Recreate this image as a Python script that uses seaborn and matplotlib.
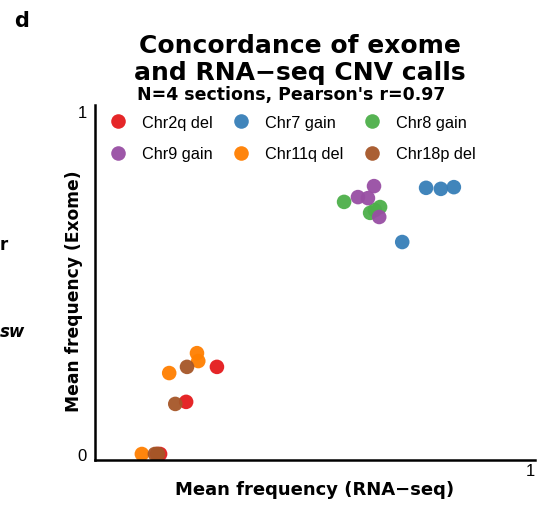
import matplotlib
matplotlib.use("Agg")
import matplotlib.pyplot as plt
import seaborn as sns
import pandas as pd

categories = ["Chr2q del", "Chr7 gain", "Chr8 gain", "Chr9 gain", "Chr11q del", "Chr18p del"]
colors = ["#E41A1C", "#377EB8", "#4DAF4A", "#984EA3", "#FF7F00", "#A65628"]

rna_chr2q = [0.267, 0.196, 0.136, 0.129]
exo_chr2q = [0.254, 0.152, 0.0, 0.0]
rna_chr7 = [0.749, 0.783, 0.813, 0.694]
exo_chr7 = [0.776, 0.773, 0.778, 0.618]
rna_chr8 = [0.560, 0.620, 0.631, 0.643]
exo_chr8 = [0.735, 0.703, 0.711, 0.720]
rna_chr9 = [0.629, 0.592, 0.615, 0.641]
exo_chr9 = [0.781, 0.749, 0.746, 0.691]
rna_chr11q = [0.221, 0.224, 0.157, 0.094]
exo_chr11q = [0.294, 0.271, 0.236, 0.0]
rna_chr18p = [0.198, 0.171, 0.124, 0.131]
exo_chr18p = [0.254, 0.146, 0.0, 0.0]

rna = [rna_chr2q, rna_chr7, rna_chr8, rna_chr9, rna_chr11q, rna_chr18p]
exo = [exo_chr2q, exo_chr7, exo_chr8, exo_chr9, exo_chr11q, exo_chr18p]

rows = []
for c, xs, ys in zip(categories, rna, exo):
    for x, y in zip(xs, ys):
        rows.append({"cnv": c, "rna": x, "exome": y})
df = pd.DataFrame(rows)

sns.set_style("white")
plt.rcParams["font.family"] = ["Liberation Sans", "DejaVu Sans"]
plt.rcParams["text.color"] = "black"
plt.rcParams["axes.labelcolor"] = "black"
plt.rcParams["xtick.color"] = "black"
plt.rcParams["ytick.color"] = "black"
plt.rcParams["legend.labelcolor"] = "black"
BOLD = ["DejaVu Sans"]

W, H = 540, 506
fig = plt.figure(figsize=(W / 100, H / 100), dpi=100)
ax = fig.add_axes([95 / W, 1 - 461 / H, 440 / W, 355 / H])

sns.scatterplot(data=df, x="rna", y="exome", hue="cnv", hue_order=categories,
                palette=colors, s=110, linewidth=0, alpha=0.95, ax=ax, legend=True)

ax.set_xlim(-0.014, 1.0)
ax.set_ylim(-0.0175, 1.0175)
ax.set_xticks([1.0])
ax.set_xticklabels(["1"])
ax.set_yticks([0, 1])
ax.set_yticklabels(["0", "1"])
ax.tick_params(axis="both", length=0, labelsize=12, colors="black")
ax.tick_params(axis="y", pad=6)
ax.tick_params(axis="x", pad=2)
for lab in ax.get_xticklabels():
    lab.set_horizontalalignment("right")
for side in ["top", "right"]:
    ax.spines[side].set_visible(False)
for side in ["left", "bottom"]:
    ax.spines[side].set_color("black")
    ax.spines[side].set_linewidth(1.8)

ax.set_xlabel("Mean frequency (RNA\u2212seq)", fontsize=13, fontweight="bold",
              family=BOLD, va="center", color="black")
ax.xaxis.set_label_coords((315 - 95) / 440, (461 - 490) / 355)
ax.set_ylabel("Mean frequency (Exome)", fontsize=12.3, fontweight="bold",
              family=BOLD, va="center", color="black")
ax.yaxis.set_label_coords((74 - 95) / 440, (461 - 291) / 355)

handles, labels = ax.get_legend_handles_labels()
order = [0, 3, 1, 4, 2, 5]
leg = ax.legend([handles[i] for i in order], [labels[i] for i in order], ncol=3,
                frameon=False, loc="upper left",
                bbox_to_anchor=(110 / W, 1 - 116 / H), bbox_transform=fig.transFigure,
                fontsize=11.7, markerscale=1.0, handlelength=1.0,
                columnspacing=1.25, handletextpad=0.97, labelspacing=1.0,
                borderpad=0, borderaxespad=0)
for t in leg.get_texts():
    t.set_color("black")

fig.text(300 / W, 1 - 46 / H, "Concordance of exome", ha="center", va="center",
         fontsize=18, fontweight="bold", family=BOLD)
fig.text(300 / W, 1 - 73 / H, "and RNA\u2212seq CNV calls", ha="center", va="center",
         fontsize=18, fontweight="bold", family=BOLD)
fig.text(291 / W, 1 - 95 / H, "N=4 sections, Pearson's r=0.97", ha="center",
         va="center", fontsize=12.5, fontweight="bold", family=BOLD)
fig.text(22 / W, 1 - 21 / H, "d", ha="center", va="center", fontsize=15,
         fontweight="bold", family=BOLD)
fig.text(0 / W, 1 - 245 / H, "r", ha="left", va="center", fontsize=12,
         fontweight="bold", family=BOLD)
fig.text(0 / W, 1 - 332 / H, "sw", ha="left", va="center", fontsize=12,
         fontweight="bold", style="italic", family=BOLD)

fig.savefig("out.png", dpi=100)
